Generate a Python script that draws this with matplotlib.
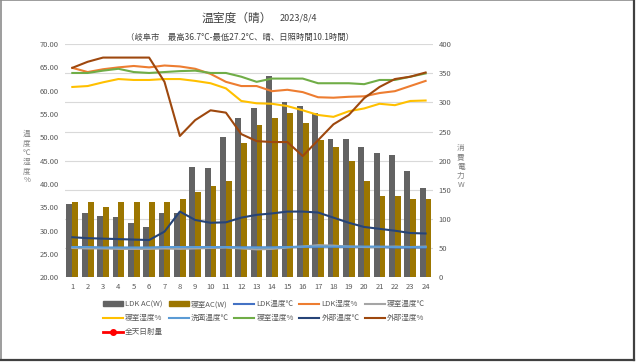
import matplotlib.pyplot as plt
from matplotlib.lines import Line2D
from matplotlib.patches import Patch
import numpy as np

plt.rcParams["font.family"] = ["Noto Sans CJK JP", "DejaVu Sans"]

hours = list(range(1, 25))

# consumption (W), right axis
ldk_ac = [125, 110, 105, 104, 94, 86, 110, 110, 190, 188, 241, 274,
          290, 346, 300, 294, 281, 238, 237, 223, 213, 210, 182, 153]
bed_ac = [130, 130, 121, 130, 130, 130, 130, 135, 146, 156, 166, 231,
          261, 274, 282, 264, 236, 223, 200, 166, 139, 139, 135, 134]

# temperature / humidity, left axis
ldk_temp = [26.4, 26.4, 26.3, 26.3, 26.3, 26.3, 26.4, 26.4, 26.4, 26.4, 26.5, 26.4,
            26.4, 26.4, 26.5, 26.5, 26.6, 26.6, 26.5, 26.5, 26.5, 26.4, 26.4, 26.4]
ldk_hum = [64.9, 64.0, 64.6, 65.0, 65.3, 65.0, 65.4, 65.2, 64.7, 63.6, 61.9, 61.0,
           61.0, 59.9, 60.2, 59.7, 58.6, 58.5, 58.7, 58.8, 59.5, 59.9, 61.0, 62.1]
bed_temp = [26.3, 26.2, 26.2, 26.1, 26.1, 26.1, 26.2, 26.1, 26.2, 26.3, 26.4, 26.2,
            26.0, 26.1, 26.4, 26.6, 26.9, 26.8, 26.6, 26.5, 26.5, 26.6, 26.5, 26.6]
bed_hum_y = [60.8, 61.0, 61.8, 62.5, 62.3, 62.3, 62.5, 62.5, 62.1, 61.6, 60.5, 57.8,
             57.3, 57.2, 56.7, 55.8, 54.8, 54.4, 55.6, 56.2, 57.2, 56.9, 57.8, 57.9]
wash_temp = [26.5, 26.5, 26.4, 26.4, 26.4, 26.4, 26.5, 26.5, 26.5, 26.5, 26.5, 26.4,
             26.4, 26.4, 26.5, 26.6, 26.6, 26.6, 26.6, 26.6, 26.6, 26.5, 26.5, 26.5]
bed_hum_g = [63.8, 63.8, 64.3, 64.7, 64.0, 63.8, 64.0, 64.2, 64.3, 63.8, 63.8, 63.0,
             61.9, 62.6, 62.6, 62.6, 61.6, 61.6, 61.6, 61.4, 62.3, 62.3, 63.0, 63.7]
out_temp = [28.6, 28.4, 28.3, 28.2, 28.1, 28.0, 29.8, 34.1, 32.3, 31.7, 31.8, 32.8,
            33.4, 33.7, 34.1, 34.1, 33.9, 32.8, 31.7, 30.8, 30.4, 30.0, 29.5, 29.4]
out_hum = [64.9, 66.2, 67.1, 67.1, 67.1, 67.1, 61.9, 50.3, 53.7, 55.8, 55.3, 50.7,
           49.2, 49.0, 49.0, 46.0, 49.4, 52.8, 54.8, 58.4, 60.8, 62.5, 63.0, 63.9]

tick_color = "#595959"

fig = plt.figure(figsize=(6.4, 3.64), dpi=100)
ax = fig.add_axes([0.101, 0.238, 0.576, 0.641])
axt = ax.twinx()

x = np.array(hours)
ax.bar(x - 0.19, ldk_ac, width=0.38, color="#636363", zorder=2)
ax.bar(x + 0.19, bed_ac, width=0.38, color="#9C7600", zorder=2)
ax.set_ylim(0, 400)
ax.set_yticks(range(0, 401, 50))
ax.yaxis.tick_right()
ax.grid(axis="y", color="#D9D9D9", linewidth=0.8, zorder=0)
ax.set_axisbelow(True)

lines = [
    (ldk_temp, "#4472C4"),
    (ldk_hum, "#ED7D31"),
    (bed_temp, "#A5A5A5"),
    (bed_hum_y, "#FFC000"),
    (wash_temp, "#5B9BD5"),
    (bed_hum_g, "#70AD47"),
    (out_temp, "#264478"),
    (out_hum, "#9E480E"),
]
for vals, c in lines:
    axt.plot(hours, vals, color=c, linewidth=1.5)
axt.set_ylim(20, 70)
axt.set_yticks(np.arange(20, 70.1, 5))
axt.set_yticklabels([f"{v:.2f}" for v in np.arange(20, 70.1, 5)])
axt.yaxis.tick_left()

ax.set_xlim(0.5, 24.5)
ax.set_xticks(hours)
ax.set_xticklabels([str(h) for h in hours])

for a in (ax, axt):
    for s in a.spines.values():
        s.set_visible(False)
    a.tick_params(length=0, labelsize=5.5, labelcolor=tick_color, pad=4)

fig.text(0.37, 0.951, "温室度（晴）", ha="center", va="center", fontsize=8.5, color="#404040")
fig.text(0.466, 0.951, "2023/8/4", ha="center", va="center", fontsize=6.5, color="#404040")
fig.text(0.375, 0.898, "（岐阜市　最高36.7°C-最低27.2°C、晴、日照時間10.1時間）",
         ha="center", va="center", fontsize=6, color="#404040")

fig.text(0.042, 0.568, "温\n度\n℃\n湿\n度\n%", ha="center", va="center",
         fontsize=5.5, color="#7F7F7F", linespacing=1.2)
fig.text(0.72, 0.542, "消\n費\n電\n力\nW", ha="center", va="center",
         fontsize=5.5, color="#7F7F7F", linespacing=1.2)

labels = ["LDK AC(W)", "寝室AC(W)", "LDK温度℃", "LDK湿度%", "寝室温度℃",
          "寝室湿度%", "洗面温度℃", "寝室湿度%", "外部温度℃", "外部湿度%", "全天日射量"]
handles = [Patch(color="#636363"), Patch(color="#9C7600")]
handles += [Line2D([], [], color=c, linewidth=1.5) for _, c in lines]
handles.append(Line2D([], [], color="#FF0000", linewidth=2, marker="o", markersize=4))
order = [0, 5, 10, 1, 6, 2, 7, 3, 8, 4, 9]
leg = fig.legend([handles[i] for i in order], [labels[i] for i in order],
                 ncol=5, loc="upper left", bbox_to_anchor=(0.155, 0.186),
                 frameon=False, fontsize=5.5, handlelength=2.6, handleheight=0.5,
                 handletextpad=0.3, columnspacing=0.7, labelspacing=0.8,
                 borderpad=0)
for t in leg.get_texts():
    t.set_color(tick_color)

# outer frame
fig.add_artist(Line2D([0.001, 0.001], [0.012, 0.999], color="#8C8C8C", linewidth=1.2))
fig.add_artist(Line2D([0.001, 0.991], [0.999, 0.999], color="#8C8C8C", linewidth=1.2))
fig.add_artist(Line2D([0.991, 0.991], [0.012, 0.999], color="#404040", linewidth=1.6))
fig.add_artist(Line2D([0.001, 0.991], [0.012, 0.012], color="#404040", linewidth=1.6))

fig.savefig("out.png", dpi=100)
